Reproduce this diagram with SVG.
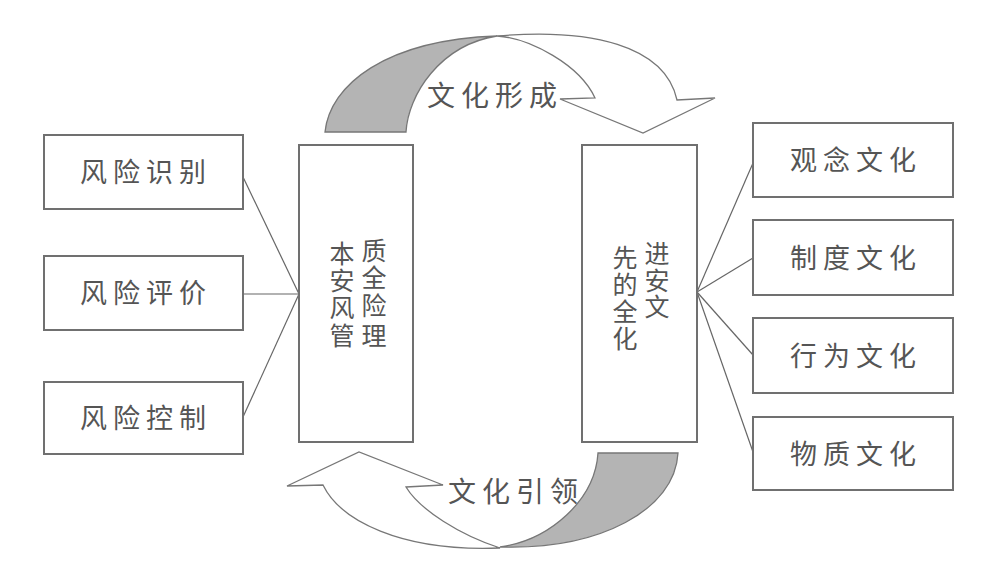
<svg xmlns="http://www.w3.org/2000/svg" width="1006" height="588" viewBox="0 0 1006 588">
<style>
.box{fill:#fff;stroke:#707070;stroke-width:2}
.t{font-family:"Noto Sans CJK SC","Noto Sans",sans-serif;font-size:27px;fill:#555;text-anchor:middle;letter-spacing:6px}
.v{font-family:"Noto Sans CJK SC","Noto Sans",sans-serif;font-size:25px;fill:#555;text-anchor:middle}
.ln{stroke:#666;stroke-width:1.2;fill:none}
.arw{fill:#fff;stroke:#777;stroke-width:1.3;stroke-linejoin:miter}
.gry{fill:#b4b4b4;stroke:#777;stroke-width:1.3}
</style>
<rect width="1006" height="588" fill="#fff"/>
<g id="connectors">
<line class="ln" x1="243" y1="177" x2="299" y2="294"/>
<line class="ln" x1="243" y1="294" x2="299" y2="294"/>
<line class="ln" x1="243" y1="417" x2="299" y2="294"/>
<line class="ln" x1="697" y1="292" x2="753" y2="163"/>
<line class="ln" x1="697" y1="292" x2="753" y2="258"/>
<line class="ln" x1="697" y1="292" x2="753" y2="355"/>
<line class="ln" x1="697" y1="292" x2="753" y2="452"/>
</g>
<g id="arrow-top">
<path class="gry" d="M325,132 C330,85 385,40 497,36 C440,45 408,95 406,132 Z"/>
<path class="arw" d="M497,36 C530,38 580,65 595,98 L560,99 L643,133 L715,98 L677,100 C665,45 590,28 497,36 Z"/>
<text class="t" x="495" y="106" style="font-size:28px">文化形成</text>
</g>
<g id="arrow-bottom">
<path class="gry" d="M598,453 L678,453 C675,510 600,550 500,547 C550,540 595,500 598,453 Z"/>
<path class="arw" d="M406,487 L443,485 L359,452 L287,486 L323,485 C340,520 400,552 500,548 C460,535 420,510 406,487 Z"/>
<text class="t" x="516" y="502" style="font-size:28px">文化引领</text>
</g>
<g id="risk-identify"><rect class="box" x="44" y="135" width="199" height="74"/><text class="t" x="146" y="182">风险识别</text></g>
<g id="risk-evaluate"><rect class="box" x="44" y="256" width="199" height="74"/><text class="t" x="146" y="303">风险评价</text></g>
<g id="risk-control"><rect class="box" x="44" y="382" width="199" height="72"/><text class="t" x="146" y="428">风险控制</text></g>
<g id="mgmt">
<rect class="box" x="299" y="145" width="114" height="297"/>
<text class="v" x="342" y="263">本</text><text class="v" x="342" y="290">安</text><text class="v" x="342" y="317">风</text><text class="v" x="342" y="345">管</text>
<text class="v" x="374" y="260">质</text><text class="v" x="374" y="287">全</text><text class="v" x="374" y="315">险</text><text class="v" x="374" y="345">理</text>
</g>
<g id="culture">
<rect class="box" x="582" y="145" width="115" height="297"/>
<text class="v" x="625" y="267">先</text><text class="v" x="625" y="294">的</text><text class="v" x="625" y="321">全</text><text class="v" x="625" y="348">化</text>
<text class="v" x="657" y="263">进</text><text class="v" x="657" y="290">安</text><text class="v" x="657" y="316">文</text>
</g>
<g id="concept"><rect class="box" x="753" y="123" width="200" height="74"/><text class="t" x="856" y="170">观念文化</text></g>
<g id="system"><rect class="box" x="753" y="220" width="200" height="75"/><text class="t" x="856" y="268">制度文化</text></g>
<g id="behavior"><rect class="box" x="753" y="318" width="200" height="75"/><text class="t" x="856" y="366">行为文化</text></g>
<g id="material"><rect class="box" x="753" y="417" width="200" height="73"/><text class="t" x="856" y="464">物质文化</text></g>
</svg>
